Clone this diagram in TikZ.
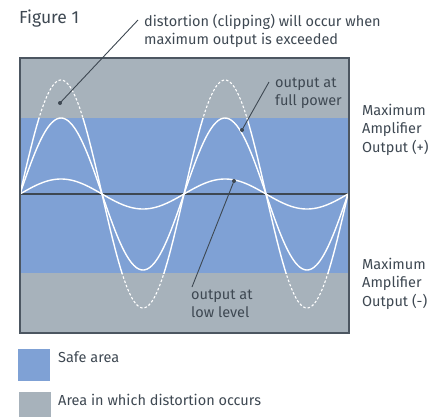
\documentclass[tikz,border=0pt]{standalone}
\usepackage{fontspec}
\setmainfont{Fira Sans}
\definecolor{safe}{HTML}{7FA1D5}
\definecolor{dist}{HTML}{A7B2BB}
\definecolor{ink}{HTML}{3E4852}
\definecolor{frame}{HTML}{4C5661}
\begin{document}
\begin{tikzpicture}[x=1pt,y=-1pt,
  lbl/.style={font=\fontsize{14.5}{18.5}\selectfont, text=ink, align=left, inner sep=0pt, anchor=base west},
  dotc/.style={fill=ink, circle, inner sep=0pt, minimum size=4pt},
  lead/.style={draw=ink, line width=0.9pt},
  wave/.style={white, line width=1.4pt},
  swatch/.style={inner sep=0pt, minimum size=32pt, anchor=north west}]
\useasboundingbox (0,0) rectangle (445,416);
% areas
\fill[dist] (20,58) rectangle (349,333);
\fill[safe] (20,118) rectangle (349,273);
% axis
\draw[ink, line width=2pt] (20,194) -- (349,194);
% waves
\draw[wave] plot[domain=20:348, samples=200, smooth] (\x, {194-15*sin(2.195122*(\x-20))});
\draw[wave] plot[domain=20:348, samples=200, smooth] (\x, {194-76*sin(2.195122*(\x-20))});
\begin{scope}
  \clip (20,118) rectangle (349,273);
  \draw[wave] plot[domain=20:348, samples=300, smooth] (\x, {194-114*sin(2.195122*(\x-20))});
\end{scope}
\begin{scope}
  \clip (20,58) rectangle (349,118) (20,273) rectangle (349,333);
  \draw[wave, line width=1.1pt, dash pattern=on 2.5pt off 2pt] plot[domain=20:348, samples=300, smooth] (\x, {194-114*sin(2.195122*(\x-20))});
\end{scope}
% frame
\draw[frame, line width=1.2pt] (20,58) rectangle (349,333);
% labels (anchored at the baseline of the last line)
\node[lbl, font=\fontsize{17.5}{18}\selectfont] (fig) at (19,23) {Figure 1};
\node[lbl, font=\fontsize{14.5}{17.7}\selectfont] (clip) at (144,44.4) {distortion (clipping) will occur when\\maximum output is exceeded};
\node[lbl] (full) at (275,105.5) {output at\\full power};
\node[lbl] (low) at (191,317.5) {output at\\low level};
\node[lbl] (maxp) at (362,152) {Maximum\\Amplifier\\Output (+)};
\node[lbl] (maxn) at (362,306) {Maximum\\Amplifier\\Output (-)};
% leaders
\node[dotc] (d1) at (60,103) {};
\node[dotc] (d2) at (242,130) {};
\node[dotc] (d3) at (234,181) {};
\coordinate (e1) at (138,20);
\coordinate (e2) at (269,82);
\coordinate (e3) at (192,287);
\draw[lead] (d1.center) -- (e1);
\draw[lead] (d2.center) -- (e2);
\draw[lead] (d3.center) -- (e3);
% legend
\node[swatch, fill=safe] (s1) at (18,349) {};
\node[swatch, fill=dist] (s2) at (19,392) {};
\node[lbl] (l1) at (58,362) {Safe area};
\node[lbl] (l2) at (58,405) {Area in which distortion occurs};
\end{tikzpicture}
\end{document}
